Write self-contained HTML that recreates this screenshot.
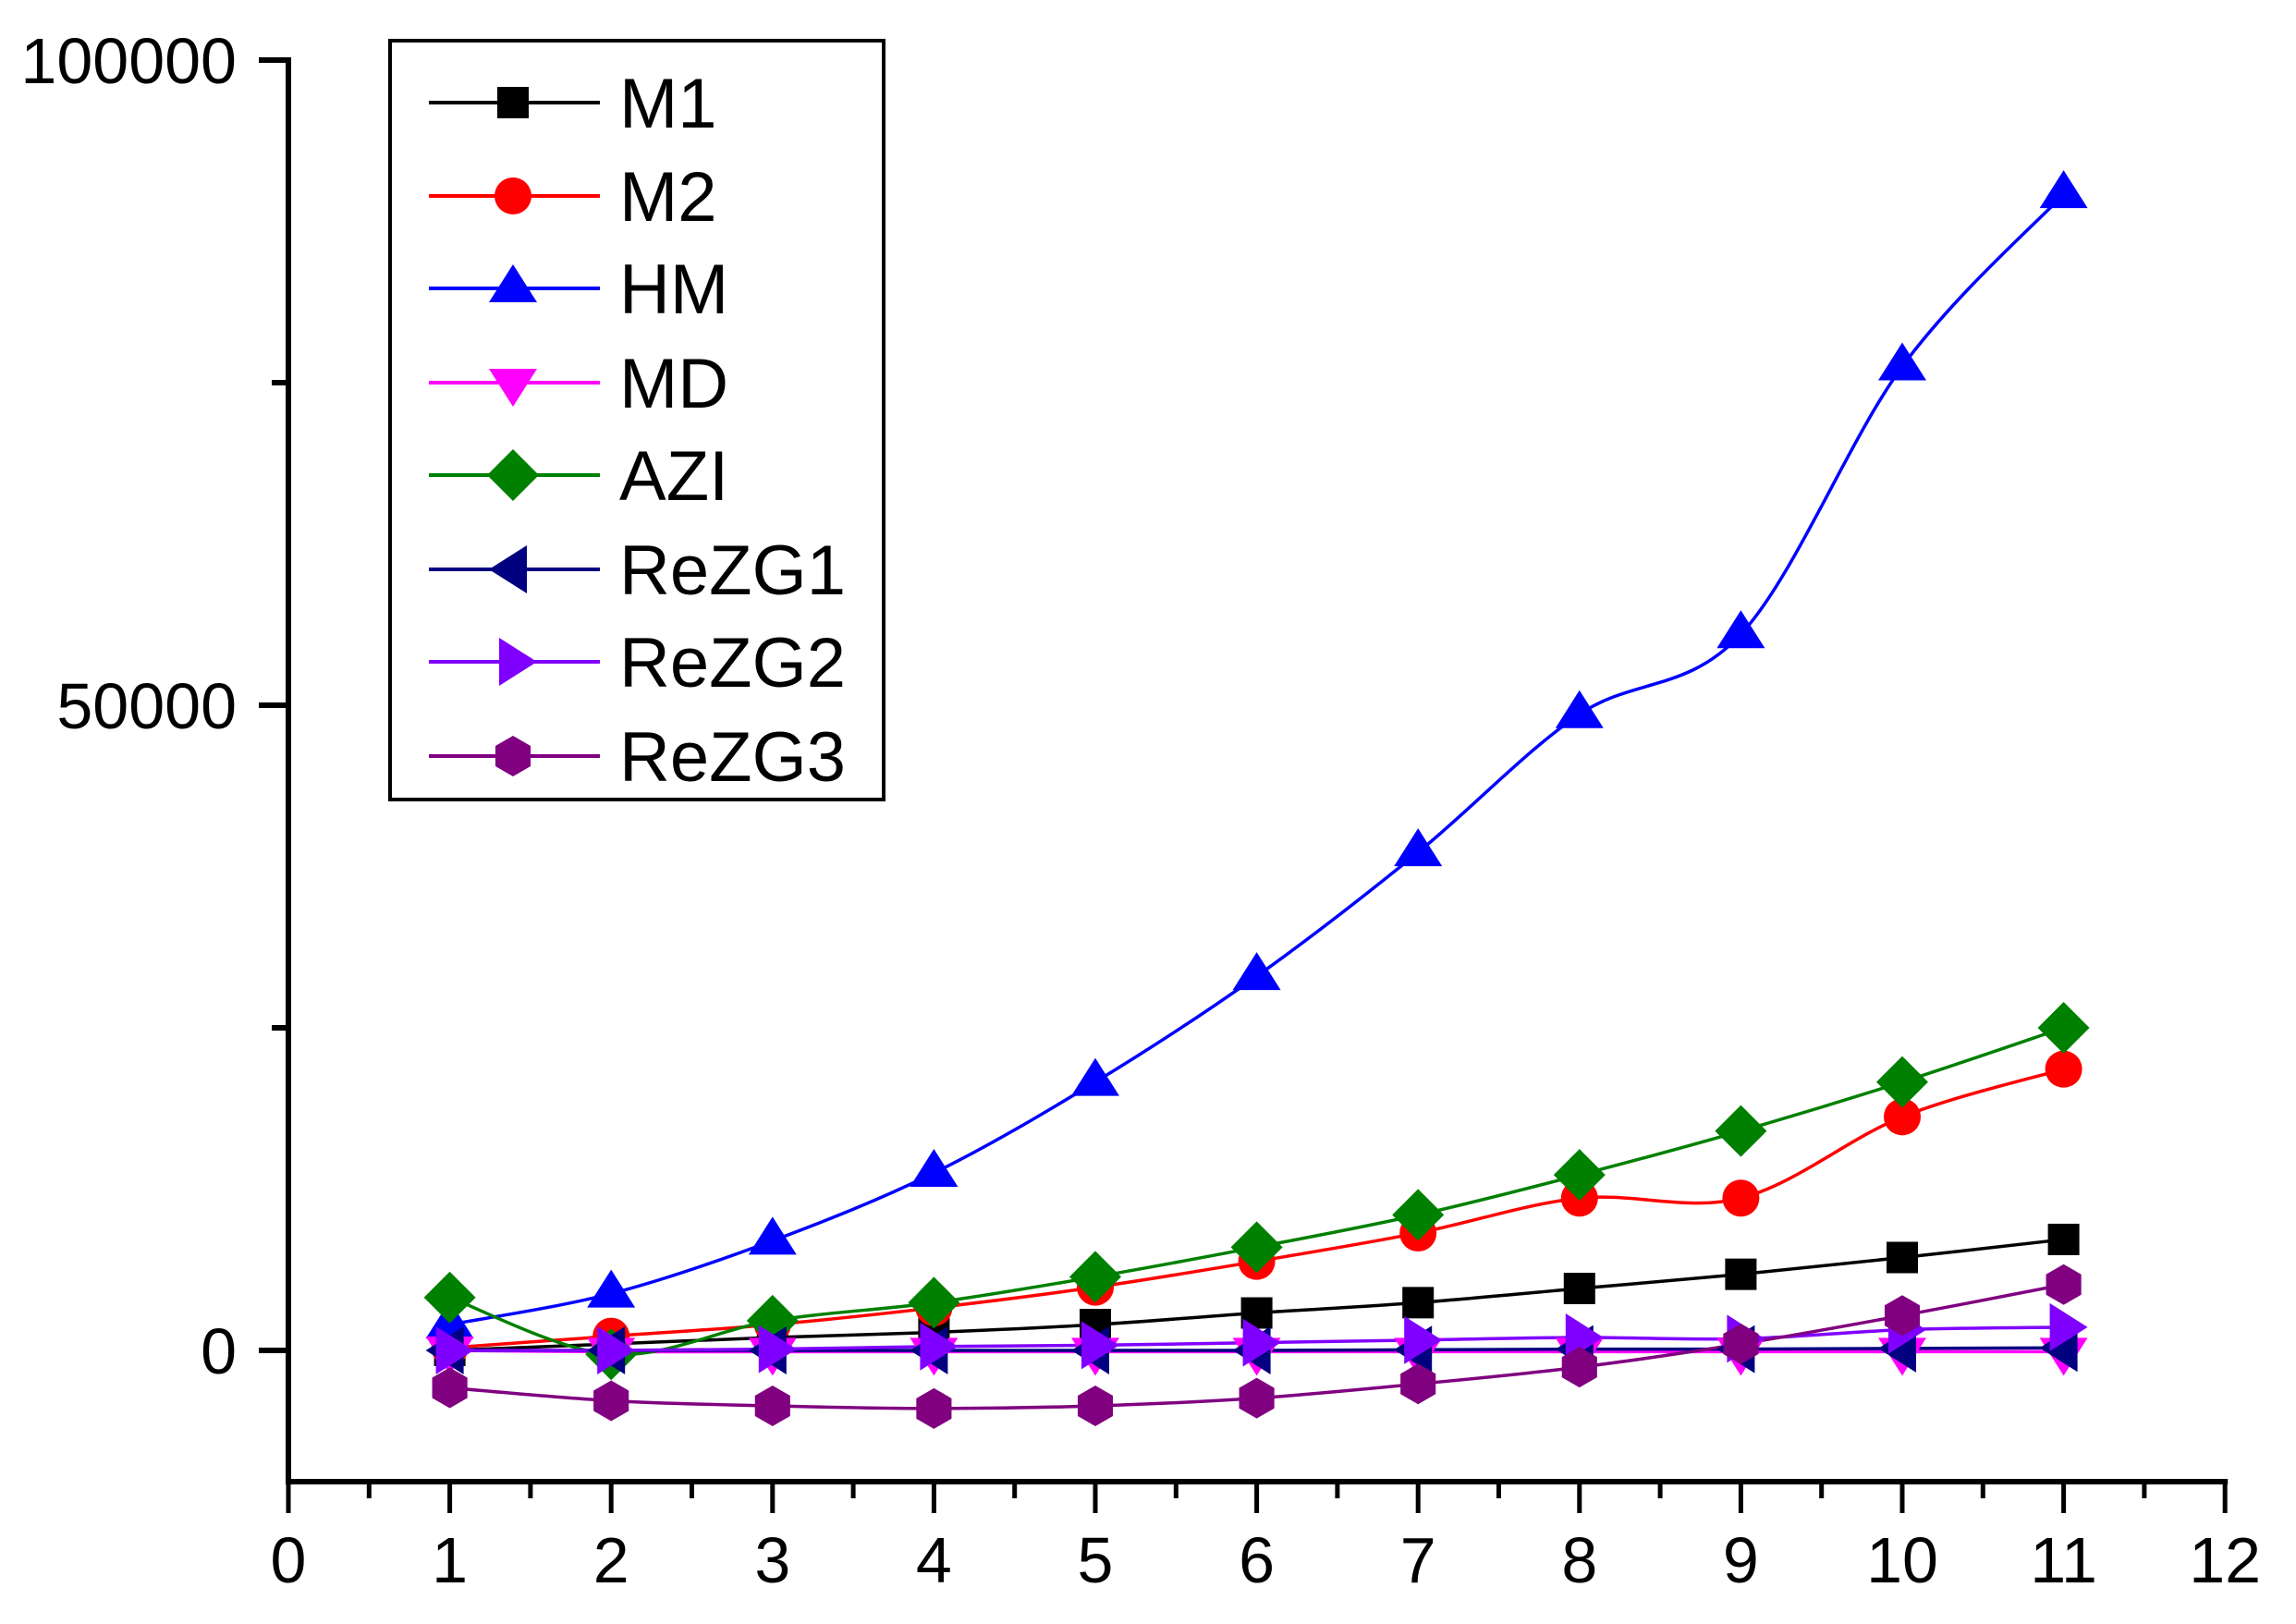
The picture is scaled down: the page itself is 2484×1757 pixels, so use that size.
<!DOCTYPE html>
<html><head><meta charset="utf-8"><style>
html,body{margin:0;padding:0;background:#fff;}
svg{display:block;}
text{font-family:"Liberation Sans",sans-serif;}
</style></head><body>
<svg id="s" width="2484" height="1757" viewBox="0 0 2484 1757" xmlns="http://www.w3.org/2000/svg"></svg>
<script>
const S=document.getElementById('s');
const X0=312,XU=174.6,Y0=1461,YK=0.01396;
const X=v=>X0+v*XU, Y=v=>Y0-v*YK;
let h='';
h+=`<line x1="${X0}" y1="62" x2="${X0}" y2="1606" stroke="#000" stroke-width="6"/>`;
h+=`<line x1="${X0-3}" y1="1603" x2="${X(12)+3}" y2="1603" stroke="#000" stroke-width="6"/>`;
[0,50000,100000].forEach(v=>{h+=`<line x1="${X0-32}" y1="${Y(v)}" x2="${X0}" y2="${Y(v)}" stroke="#000" stroke-width="6"/>`;
 h+=`<text x="256" y="${Y(v)+25}" font-size="70" text-anchor="end">${v}</text>`;});
[25000,75000].forEach(v=>{h+=`<line x1="${X0-18}" y1="${Y(v)}" x2="${X0}" y2="${Y(v)}" stroke="#000" stroke-width="6"/>`;});
for(let i=0;i<=12;i++){h+=`<line x1="${X(i)}" y1="1603" x2="${X(i)}" y2="1637" stroke="#000" stroke-width="5"/>`;
 h+=`<text x="${X(i)}" y="1712" font-size="70" text-anchor="middle">${i}</text>`;
 if(i<12)h+=`<line x1="${X(i+0.5)}" y1="1603" x2="${X(i+0.5)}" y2="1621" stroke="#000" stroke-width="5"/>`;}
function mk(t,x,y,c){
 if(t=='sq')return `<rect x="${x-17}" y="${y-17}" width="34" height="34" fill="${c}"/>`;
 if(t=='ci')return `<circle cx="${x}" cy="${y}" r="20" fill="${c}"/>`;
 if(t=='up')return `<polygon points="${x},${y-26} ${x+26},${y+15} ${x-26},${y+15}" fill="${c}"/>`;
 if(t=='dn')return `<polygon points="${x},${y+26} ${x+26},${y-15} ${x-26},${y-15}" fill="${c}"/>`;
 if(t=='di')return `<polygon points="${x},${y-28} ${x+28},${y} ${x},${y+28} ${x-28},${y}" fill="${c}"/>`;
 if(t=='lt')return `<polygon points="${x-26},${y} ${x+15},${y-26} ${x+15},${y+26}" fill="${c}"/>`;
 if(t=='rt')return `<polygon points="${x+26},${y} ${x-15},${y-26} ${x-15},${y+26}" fill="${c}"/>`;
 if(t=='hx'){let p=[];for(let k=0;k<6;k++){let a=Math.PI/6+k*Math.PI/3;p.push((x+22*Math.cos(a))+','+(y+22*Math.sin(a)));}return `<polygon points="${p.join(' ')}" fill="${c}"/>`;}
}
const S_=[
 ['M1','#000','sq',[0,500,1000,1400,2000,2900,3700,4800,5900,7200,8600]],
 ['M2','#ff0000','ci',[200,1100,2000,3300,4900,6900,9100,11800,11800,18100,21800]],
 ['HM','#0000ff','up',[2000,4400,8500,13750,20800,29000,38600,49300,55500,76250,89600]],
 ['MD','#ff00ff','dn',[0,-100,-100,-100,-100,-100,-100,-100,-100,-100,-100]],
 ['AZI','#008000','di',[4100,-300,2300,3700,5700,8000,10500,13600,17000,20800,25000]],
 ['ReZG1','#000080','lt',[0,0,0,0,0,0,50,100,100,150,200]],
 ['ReZG2','#8000ff','rt',[0,0,100,300,400,600,800,1000,900,1600,1800]],
 ['ReZG3','#800080','hx',[-2900,-3900,-4300,-4500,-4300,-3700,-2600,-1300,500,2700,5100]]];
let lines='',marks='';
S_.forEach(s=>{const p=s[3].map((v,i)=>[X(i+1),Y(v)]);
 let d=`M${p[0][0]},${p[0][1]}`;
 for(let i=0;i<p.length-1;i++){const a=p[Math.max(i-1,0)],b=p[i],c=p[i+1],e=p[Math.min(i+2,p.length-1)];
  d+=` C${b[0]+(c[0]-a[0])/6},${b[1]+(c[1]-a[1])/6} ${c[0]-(e[0]-b[0])/6},${c[1]-(e[1]-b[1])/6} ${c[0]},${c[1]}`;}
 lines+=`<path d="${d}" fill="none" stroke="${s[1]}" stroke-width="3.5"/>`;
 p.forEach(q=>marks+=mk(s[2],q[0],q[1],s[1]));});
h+=lines+marks;
h+=`<rect x="422" y="44" width="534" height="821" fill="#fff" stroke="#000" stroke-width="4"/>`;
const LY=[111,212,312,414,514,616,716,818];
S_.forEach((s,i)=>{h+=`<line x1="464" y1="${LY[i]}" x2="649" y2="${LY[i]}" stroke="${s[1]}" stroke-width="4"/>`;
 h+=mk(s[2],555,LY[i],s[1]);
 h+=`<text x="670" y="${LY[i]+27}" font-size="76">${s[0]}</text>`;});
S.innerHTML=h;
</script>
</body></html>
